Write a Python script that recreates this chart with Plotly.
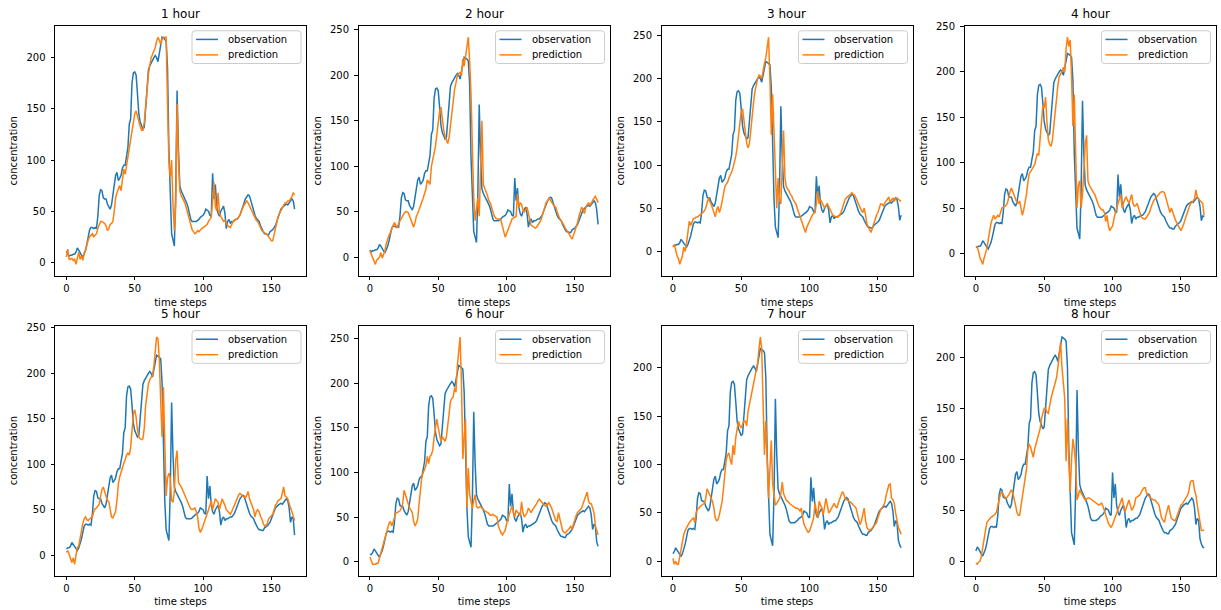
import plotly.graph_objects as go

# ---------------- data ----------------
TITLES = ["1 hour", "2 hour", "3 hour", "4 hour", "5 hour", "6 hour", "7 hour", "8 hour"]
SERIES_NAMES = ["observation", "prediction"]
X_LABEL = "time steps"
Y_LABEL = "concentration"
N_STEPS = 168
TIME_STEPS = list(range(N_STEPS))
X_TICKS = [0, 50, 100, 150]

# observed concentration (panel h shows this series starting at index h-1)
OBS_BASE = [
    11, 8, 6, 7, 7, 8, 8, 10, 14, 12,
    9, 7, 5, 8, 12, 18, 25, 32, 34, 34,
    33, 34, 33, 45, 65, 71, 70, 63, 62, 62,
    57, 55, 52, 56, 65, 78, 85, 88, 80, 82,
    85, 92, 95, 95, 102, 112, 135, 140, 175, 185,
    186, 183, 165, 145, 137, 133, 130, 132, 148, 170,
    188, 192, 195, 197, 200, 202, 200, 196, 205, 212,
    220, 219, 218, 216, 190, 110, 60, 28, 22, 16,
    70, 168, 110, 75, 70, 67, 64, 62, 58, 54,
    47, 42, 40, 40, 40, 40, 41, 42, 44, 45,
    46, 48, 52, 51, 50, 46, 45, 87, 62, 76,
    55, 48, 45, 50, 53, 55, 48, 33, 40, 42,
    38, 40, 40, 41, 42, 42, 44, 46, 50, 55,
    58, 62, 64, 66, 65, 60, 55, 50, 46, 43,
    41, 40, 36, 32, 30, 28, 28, 27, 27, 30,
    31, 32, 34, 36, 40, 45, 48, 52, 54, 55,
    56, 57, 56, 58, 60, 62, 60, 52, 36, 42,
    40, 22, 17, 14, 13,
]

PRED_1 = [
    5, 13, 3, 3, 4, 2, 3, -2, 4, 10,
    3, 6, 2, 9, 12, 18, 22, 25, 27, 28,
    25, 27, 28, 33, 37, 40, 40, 39, 38, 36,
    31, 33, 37, 38, 40, 50, 63, 68, 71, 75,
    70, 82, 91, 86, 95, 102, 110, 119, 130, 140,
    145, 148, 142, 137, 133, 129, 129, 137, 150, 167,
    184, 193, 200, 203, 206, 210, 216, 220, 217, 213,
    218, 220, 220, 220, 155, 99, 83, 100, 57, 31,
    54, 155, 100, 70, 65, 63, 60, 57, 52, 46,
    40, 37, 32, 30, 28, 29, 31, 30, 32, 33,
    34, 35, 36, 37, 40, 42, 44, 60, 78, 55,
    50, 68, 48, 45, 42, 40, 41, 38, 36, 35,
    34, 37, 40, 41, 42, 42, 44, 46, 50, 54,
    56, 58, 60, 58, 55, 52, 50, 47, 44, 41,
    40, 37, 34, 31, 30, 29, 28, 27, 25, 23,
    21, 21, 27, 34, 41, 45, 48, 50, 53, 56,
    58, 58, 60, 60, 62, 64, 68, 66,
]

PRED_2 = [
    7, 3, -2, -6, -8, -3, -2, 0, 5, -1,
    3, 7, 15, 20, 24, 27, 32, 35, 38, 35,
    32, 37, 40, 43, 46, 48, 50, 50, 49, 45,
    40, 37, 33, 38, 45, 48, 52, 55, 60, 65,
    70, 75, 85, 82, 80, 100, 108, 115, 122, 135,
    148, 160, 165, 150, 140, 133, 128, 125, 132, 145,
    160, 175, 185, 192, 200, 202, 203, 200, 218, 210,
    222, 235, 242, 215, 180, 120, 65, 40, 55, 65,
    45, 100, 150, 80, 75, 72, 68, 62, 60, 55,
    50, 45, 43, 42, 42, 42, 40, 35, 28, 22,
    26, 30, 34, 38, 42, 43, 44, 45, 70, 55,
    60, 58, 52, 50, 52, 55, 48, 40, 35, 34,
    33, 32, 33, 35, 38, 40, 45, 50, 55, 60,
    62, 65, 63, 60, 58, 56, 55, 50, 45, 42,
    40, 38, 35, 32, 30, 28, 25, 22, 20, 24,
    28, 33, 38, 45, 50, 55, 52, 48, 55, 58,
    60, 57, 60, 62, 65, 67, 63, 60,
]

PRED_3 = [
    5, 8, 2, -5, -8, -15, -10, -5, 5, 0,
    10, 25, 35, 30, 34, 38, 38, 40, 40, 41,
    42, 43, 45, 47, 50, 56, 62, 58, 55, 50,
    45, 40, 48, 52, 45, 50, 58, 66, 75, 78,
    80, 85, 88, 92, 97, 103, 110, 120, 135, 150,
    162, 165, 150, 140, 125, 120, 125, 140, 160, 172,
    185, 193, 200, 204, 203, 200, 210, 218, 224, 235,
    248, 200, 135, 182, 130, 80, 50, 85, 60, 55,
    95, 140, 85, 75, 72, 70, 66, 64, 60, 58,
    55, 50, 45, 40, 35, 30, 26, 22, 28, 32,
    35, 38, 42, 44, 45, 55, 70, 55, 60, 57,
    53, 50, 53, 55, 52, 48, 44, 42, 41, 40,
    40, 40, 42, 45, 50, 55, 60, 62, 64, 65,
    66, 68, 66, 65, 62, 58, 55, 52, 47, 45,
    50, 42, 32, 28, 25, 22, 27, 33, 38, 42,
    45, 50, 55, 55, 53, 56, 58, 60, 63, 57,
    60, 62, 58, 61, 62, 60, 59, 58,
]

PRED_4 = [
    8, 7, 2, -5, -8, -12, -5, 0, 5, 15,
    25, 33, 38, 42, 38, 40, 42, 40, 44, 50,
    51, 52, 53, 55, 62, 68, 72, 68, 62, 58,
    56, 55, 58, 50, 42, 48, 55, 65, 78, 88,
    90, 92, 95, 98, 105, 110, 108, 125, 150, 163,
    160, 172, 145, 125, 120, 118, 125, 140, 155, 175,
    185, 195, 198, 200, 205, 200, 225, 238, 228, 235,
    195, 140, 175, 90, 50, 75, 80, 50, 65, 90,
    120, 130, 80, 75, 72, 70, 67, 65, 60, 55,
    52, 50, 48, 48, 45, 35, 42, 30, 25, 28,
    30, 38, 45, 50, 55, 60, 65, 50, 55, 60,
    62, 58, 55, 60, 65, 55, 52, 53, 55, 50,
    45, 40, 39, 38, 38, 40, 42, 45, 50, 55,
    58, 60, 62, 63, 65, 67, 68, 68, 67, 62,
    55, 50, 45, 50, 45, 40, 37, 34, 30, 28,
    25, 28, 32, 37, 42, 45, 50, 55, 56, 58,
    60, 70, 62, 60, 58, 56, 55, 42,
]

PRED_5 = [
    3, 5, 1, -4, -8, -3, -10, 0, 8, 10,
    20, 28, 35, 40, 42, 39, 38, 40, 41, 42,
    48, 51, 52, 54, 56, 65, 72, 75, 70, 64,
    60, 59, 52, 42, 41, 44, 48, 60, 78, 86,
    92, 97, 101, 105, 110, 112, 110, 118, 140, 155,
    160, 152, 138, 130, 128, 127, 128, 140, 165, 178,
    188, 193, 196, 198, 208, 225, 240, 238, 215, 170,
    130, 185, 120, 65, 85, 90, 85, 60, 58, 70,
    105, 115, 80, 78, 75, 72, 68, 64, 60, 56,
    54, 51, 50, 51, 52, 48, 42, 30, 25, 28,
    32, 36, 40, 45, 50, 55, 60, 50, 55, 62,
    60, 58, 50, 55, 62, 58, 55, 50, 48, 47,
    45, 48, 52, 55, 60, 62, 66, 68, 66, 65,
    64, 63, 66, 70, 62, 58, 55, 50, 42, 48,
    50, 48, 43, 40, 35, 32, 33, 35, 40, 42,
    43, 45, 50, 55, 57, 60, 61, 62, 68, 75,
    65, 64, 62, 56, 52, 48, 42, 38,
]

PRED_6 = [
    5, 0, -3, -3, -3, -2, -2, 4, 10, 15,
    22, 28, 33, 38, 43, 45, 40, 44, 50, 55,
    55, 56, 57, 60, 65, 80, 75, 70, 65, 60,
    58, 55, 45, 40, 43, 48, 65, 80, 95, 100,
    103, 108, 118, 110, 118, 120, 125, 140, 150, 160,
    150, 140, 135, 140, 137, 135, 140, 155, 168, 180,
    183, 185, 195, 190, 220, 240, 252, 200, 115, 140,
    160, 60, 105, 75, 65, 60, 68, 75, 62, 60,
    61, 62, 60, 58, 57, 56, 55, 54, 52, 52,
    53, 52, 51, 50, 40, 35, 32, 30, 32, 35,
    42, 48, 55, 58, 62, 56, 50, 58, 55, 53,
    52, 67, 55, 50, 52, 55, 60, 57, 55, 58,
    60, 62, 65, 68, 70, 68, 66, 65, 63, 62,
    64, 66, 63, 60, 55, 50, 46, 45, 55, 48,
    40, 35, 33, 32, 34, 35, 37, 40, 36, 42,
    48, 52, 55, 57, 58, 60, 65, 70, 75, 78,
    68, 65, 65, 60, 55, 40, 35, 30,
]

PRED_7 = [
    3, -3, 0, -3, -3, 5, 12, 22, 28, 32,
    35, 38, 40, 42, 44, 45, 40, 50, 54, 55,
    57, 58, 59, 60, 65, 75, 72, 68, 64, 62,
    55, 45, 42, 43, 48, 55, 62, 75, 95, 105,
    110, 112, 105, 100, 120, 110, 128, 135, 145, 140,
    138, 142, 145, 145, 140, 155, 162, 170, 175, 182,
    188, 195, 205, 220, 232, 220, 150, 110, 145, 90,
    65, 95, 125, 80, 65, 58, 60, 62, 65, 70,
    82, 70, 66, 63, 62, 60, 59, 58, 57, 56,
    55, 55, 54, 52, 55, 45, 38, 35, 32, 30,
    31, 35, 40, 45, 60, 50, 45, 62, 58, 55,
    48, 55, 65, 58, 50, 52, 55, 58, 60, 57,
    55, 60, 65, 68, 72, 70, 65, 64, 63, 62,
    61, 60, 58, 57, 55, 50, 45, 38, 42, 48,
    55, 42, 35, 33, 32, 33, 35, 36, 38, 40,
    45, 50, 53, 55, 58, 60, 68, 75, 79, 80,
    65, 64, 60, 50, 42, 35, 32, 28,
]

PRED_8 = [
    -2, -3, -1, 0, 5, 15, 22, 30, 38, 40,
    42, 43, 44, 45, 46, 48, 55, 60, 66, 68,
    65, 63, 62, 63, 65, 68, 70, 67, 62, 55,
    48, 45, 45, 55, 62, 70, 80, 90, 110, 115,
    112, 108, 102, 110, 115, 120, 125, 130, 140, 145,
    150, 150, 146, 145, 155, 160, 165, 170, 175, 180,
    190, 200, 215, 190, 175, 160, 98, 140, 100, 68,
    100, 120, 110, 95, 60, 65, 70, 67, 65, 63,
    60, 61, 62, 62, 61, 60, 59, 58, 57, 56,
    55, 56, 57, 54, 50, 45, 40, 37, 35, 33,
    36, 40, 44, 48, 52, 55, 58, 62, 55, 48,
    52, 56, 60, 55, 50, 52, 55, 62, 63, 64,
    65, 68, 70, 72, 72, 66, 65, 63, 62, 61,
    60, 60, 58, 56, 55, 48, 42, 40, 38, 45,
    50, 55, 48, 42, 41, 40, 40, 44, 48, 52,
    55, 56, 58, 60, 62, 65, 70, 78, 79, 79,
    70, 65, 55, 45, 35, 30, 30, 31,
]

PREDICTIONS = [PRED_1, PRED_2, PRED_3, PRED_4, PRED_5, PRED_6, PRED_7, PRED_8]

# ---------------- style / layout ----------------
W, H = 1221, 610
COLORS = ["#1f77b4", "#ff7f0e"]
FONT = "DejaVu Sans"

COL_LEFT = [55, 358.5, 661.5, 964.5]
COL_W = 251
ROW_TOP = [21, 323.3]
ROW_H = 252


def px(xp):
    return xp / W


def py(yp):
    return 1 - yp / H


fig = go.Figure()
shapes = []
annotations = []
layout = dict(
    width=W, height=H,
    margin=dict(l=0, r=0, t=0, b=0),
    paper_bgcolor="white", plot_bgcolor="white",
    font=dict(family=FONT, size=10, color="black"),
    showlegend=False,
)

for i in range(8):
    r, c = divmod(i, 4)
    k = i + 1
    sfx = "" if k == 1 else str(k)
    obs = OBS_BASE[i:i + N_STEPS]
    pred = PREDICTIONS[i]

    for name, ys, col in zip(SERIES_NAMES, [obs, pred], COLORS):
        fig.add_trace(go.Scatter(x=TIME_STEPS, y=ys, mode="lines", name=name,
                                 line=dict(color=col, width=1.5),
                                 xaxis=f"x{sfx}", yaxis=f"y{sfx}", showlegend=False,
                                 hoverinfo="skip"))

    L = COL_LEFT[c]
    R = COL_LEFT[c] + COL_W
    T = ROW_TOP[r]
    B = ROW_TOP[r] + ROW_H

    lo = min(min(obs), min(pred))
    hi = max(max(obs), max(pred))
    pad = 0.05 * (hi - lo)
    xpad = 0.05 * (N_STEPS - 1)

    axis_common = dict(showline=True, mirror=True, linecolor="black", linewidth=0.8,
                       ticks="outside", ticklen=3.5, tickwidth=0.8, tickcolor="black",
                       showgrid=False, zeroline=False,
                       tickfont=dict(family=FONT, size=10, color="black"))
    layout[f"xaxis{sfx}"] = dict(domain=[px(L), px(R)], anchor=f"y{sfx}",
                                 range=[-xpad, N_STEPS - 1 + xpad],
                                 tickvals=X_TICKS,
                                 title=dict(text=X_LABEL, standoff=5,
                                            font=dict(family=FONT, size=10, color="black")),
                                 **axis_common)
    layout[f"yaxis{sfx}"] = dict(domain=[py(B), py(T)], anchor=f"x{sfx}",
                                 range=[lo - pad, hi + pad],
                                 tick0=0, dtick=50, ticklabelstandoff=3,
                                 title=dict(text=Y_LABEL, standoff=6,
                                            font=dict(family=FONT, size=10, color="black")),
                                 **axis_common)

    # title
    annotations.append(dict(
        text=TITLES[i], x=px((L + R) / 2), y=py(T), xref="paper", yref="paper",
        xanchor="center", yanchor="bottom", yshift=3, showarrow=False,
        font=dict(family=FONT, size=12, color="black")))

    # legend box (matplotlib-style, rounded corners)
    bx0, bx1 = R - 114, R - 5
    by0, by1 = T + 5, T + 38
    rr = 3
    path = (f"M {px(bx0 + rr)},{py(by0)} L {px(bx1 - rr)},{py(by0)} "
            f"Q {px(bx1)},{py(by0)} {px(bx1)},{py(by0 + rr)} "
            f"L {px(bx1)},{py(by1 - rr)} Q {px(bx1)},{py(by1)} {px(bx1 - rr)},{py(by1)} "
            f"L {px(bx0 + rr)},{py(by1)} Q {px(bx0)},{py(by1)} {px(bx0)},{py(by1 - rr)} "
            f"L {px(bx0)},{py(by0 + rr)} Q {px(bx0)},{py(by0)} {px(bx0 + rr)},{py(by0)} Z")
    shapes.append(dict(type="path", path=path, xref="paper", yref="paper",
                       fillcolor="rgba(255,255,255,0.8)",
                       line=dict(color="#cccccc", width=1), layer="above"))
    for j, (name, col) in enumerate(zip(SERIES_NAMES, COLORS)):
        yy = T + 13.7 + j * 15.6
        shapes.append(dict(type="line", xref="paper", yref="paper",
                           x0=px(R - 110), x1=px(R - 88), y0=py(yy), y1=py(yy),
                           line=dict(color=col, width=1.5), layer="above"))
        annotations.append(dict(
            text=name, x=px(R - 80), y=py(yy), xref="paper", yref="paper",
            xanchor="left", yanchor="middle", showarrow=False,
            font=dict(family=FONT, size=10, color="black")))

layout["shapes"] = shapes
layout["annotations"] = annotations
fig.update_layout(**layout)

POST = ("document.body.style.margin='0px';"
        "var d=document.getElementById('{plot_id}');"
        "d.style.position='absolute';d.style.left='0px';d.style.top='0px';")
fig.write_html("out.html", post_script=POST, config={"displayModeBar": False})
